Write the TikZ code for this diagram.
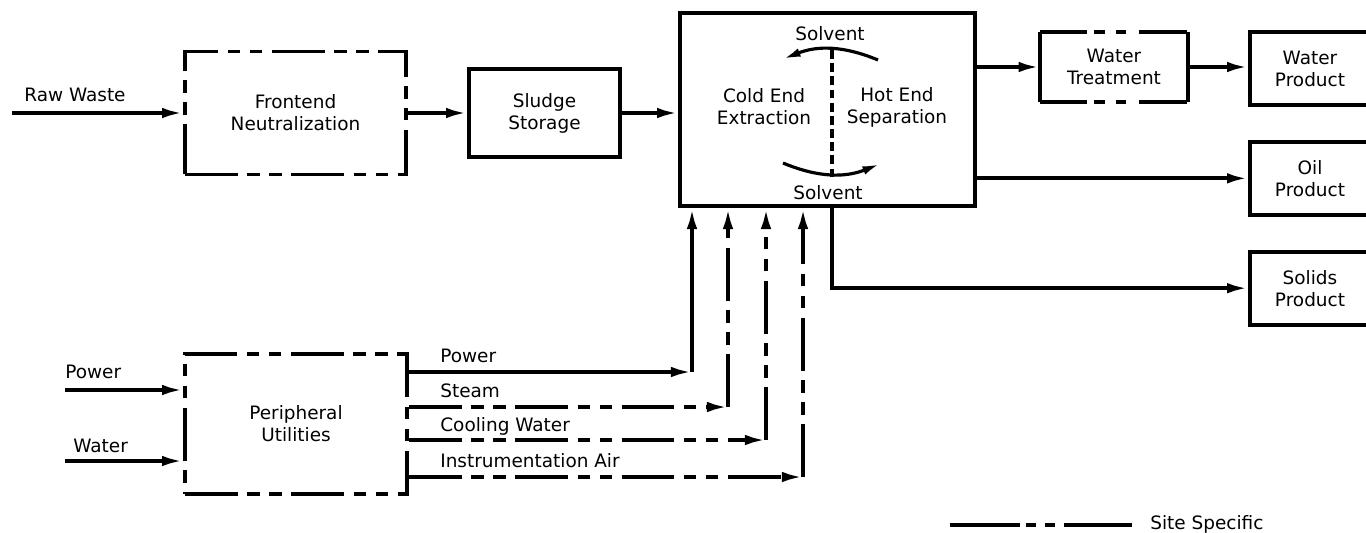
\documentclass[tikz,border=0pt]{standalone}
\usepackage{fontspec}
\setmainfont{DejaVu Sans}
\usetikzlibrary{positioning,arrows.meta}

\tikzset{
  procbox/.style={draw, line width=2.2pt, align=center, inner sep=2pt},
  sitespec/.style={dash pattern=on 30pt off 5.5pt on 7pt off 5.5pt on 7pt off 5.5pt},
  flowline/.style={line width=2.2pt, -{Latex[length=12pt,width=6pt]}},
  wtedge/.style={line width=2.2pt, dash pattern=on 27.2pt off 4pt on 5.7pt off 6.8pt on 5.7pt off 7.4pt on 27.2pt off 20pt},
}

\begin{document}
\begin{tikzpicture}[
    x=0.02cm, y=-0.02cm,
    font=\fontsize{10.5}{12.5}\selectfont,
    every node/.style={align=center}
  ]
    \useasboundingbox (0,0) rectangle (1366,532);

    % top row
    \node[procbox, sitespec, minimum width=4.42cm, minimum height=2.46cm] (frontend) at (295.5,113) {Frontend\\Neutralization};
    \node[procbox, minimum width=3.02cm, minimum height=1.76cm] (sludge) at (544.5,113) {Sludge\\Storage};
    \node[procbox, minimum width=5.9cm, minimum height=3.86cm] (main) at (827.5,109.5) {};
    \node[minimum width=2.96cm, minimum height=1.4cm] (wt) at (1114,67) {Water\\Treatment};
    \node[procbox, minimum width=2.4cm, minimum height=1.46cm] (waterprod) at (1310,68.5) {Water\\Product};
    \node[procbox, minimum width=2.4cm, minimum height=1.46cm] (oilprod) [below=0.66cm of waterprod] {Oil\\Product};
    \node[procbox, minimum width=2.4cm, minimum height=1.46cm] (solidsprod) [below=0.66cm of oilprod] {Solids\\Product};

    % water treatment box, dashed only in the middle of top and bottom
    \draw[line width=2.2pt] (wt.north west) -- (wt.south west);
    \draw[line width=2.2pt] (wt.north east) -- (wt.south east);
    \draw[wtedge] (wt.north west) -- (wt.north east);
    \draw[wtedge] (wt.south west) -- (wt.south east);

    % inside the extraction unit
    \node (solvtop) at (830,34) {Solvent};
    \node (solvbot) at (828,193) {Solvent};
    \node (cold) at (764,107) {Cold End\\Extraction};
    \node (hot) at (897,107) {Hot End\\Separation};
    \coordinate (sepx) at (832,50);
    \draw[line width=2pt, dash pattern=on 5pt off 2.5pt] (sepx) -- (832,180);
    \draw[line width=1.8pt, -{Latex[length=10pt,width=5pt]}] (878,60) to[bend right=22] (783,59);
    \draw[line width=1.8pt, -{Latex[length=10pt,width=5pt]}] (783,163) to[bend right=22] (880,164);

    % main flow
    \coordinate (rawin) at (12,113);
    \node[anchor=base west, inner sep=0pt] (rawlbl) at (24,101) {Raw Waste};
    \draw[flowline] (rawin) -- (frontend.west);
    \draw[flowline] (frontend) -- (sludge);
    \draw[flowline] (sludge.east) -- (sludge.east -| main.west);
    \draw[flowline] (main.east |- wt) -- (wt.west);
    \draw[flowline] (wt.east) -- (wt.east -| waterprod.west);
    \draw[flowline] (main.east |- oilprod) -- (oilprod.west);
    \draw[flowline] (sepx |- main.south) |- (solidsprod.west);

    % utilities
    \node[procbox, sitespec, minimum width=4.44cm, minimum height=2.8cm] (periph) at (296,424) {Peripheral\\Utilities};
    \coordinate (pwrin) at (65,390);
    \coordinate (watin) at (65,461);
    \node[anchor=base west, inner sep=0pt] (pwrinlbl) at (65,378) {Power};
    \node[anchor=base west, inner sep=0pt] (watinlbl) at (73,452) {Water};
    \draw[flowline] (pwrin) -- (pwrin -| periph.west);
    \draw[flowline] (watin) -- (watin -| periph.west);

    \coordinate (pwrc) at (692,372);
    \coordinate (steamc) at (728,407);
    \coordinate (coolc) at (766,440);
    \coordinate (airc) at (803,477);
    \node[anchor=base west, inner sep=0pt] (pwrlbl) at (440,362) {Power};
    \node[anchor=base west, inner sep=0pt] (steamlbl) at (440,397) {Steam};
    \node[anchor=base west, inner sep=0pt] (coollbl) at (440,431) {Cooling Water};
    \node[anchor=base west, inner sep=0pt] (airlbl) at (440,467) {Instrumentation Air};
    \draw[flowline] (periph.east |- pwrc) -- (pwrc);
    \draw[flowline] (pwrc) -- (pwrc |- main.south);
    \draw[flowline, sitespec] (periph.east |- steamc) -- (steamc);
    \draw[flowline, sitespec] (steamc) -- (steamc |- main.south);
    \draw[flowline, sitespec] (periph.east |- coolc) -- (coolc);
    \draw[flowline, sitespec] (coolc) -- (coolc |- main.south);
    \draw[flowline, sitespec] (periph.east |- airc) -- (airc);
    \draw[flowline, sitespec] (airc) -- (airc |- main.south);

    % legend
    \node[anchor=west, inner sep=0pt] (legend) at (1150,524) {Site Specific};
    \coordinate (legstart) at (950,525);
    \coordinate (legstop) at (1132,525);
    \draw[line width=2.2pt, dash pattern=on 40pt off 3pt on 6pt off 5pt on 6pt off 5pt on 40pt off 10pt] (legstart) -- (legstop);
  \end{tikzpicture}
\end{document}
